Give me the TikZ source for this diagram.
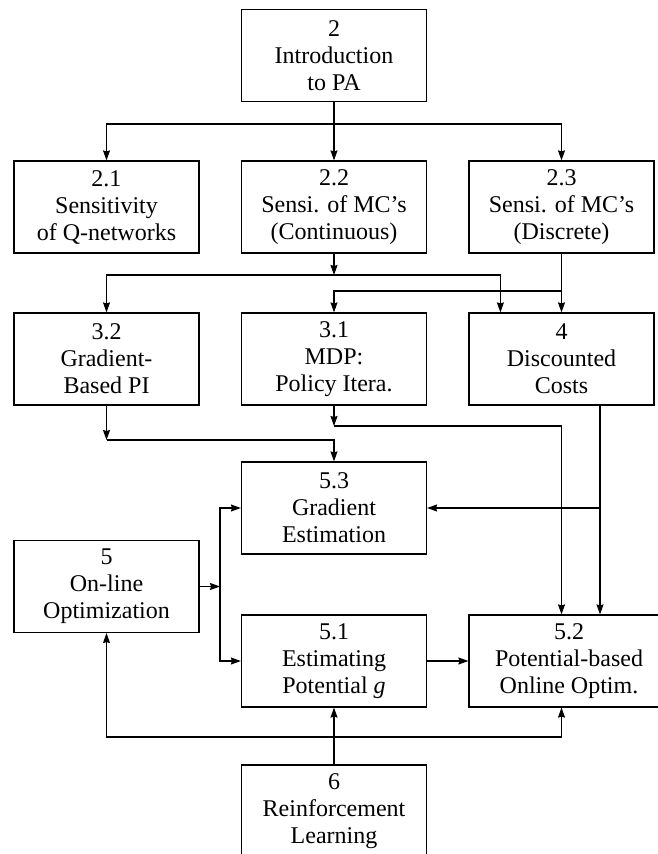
\documentclass[tikz,border=0pt]{standalone}
\usepackage{fontspec}
\setmainfont{Liberation Serif}
\usepackage{tikz}
\usetikzlibrary{arrows.meta,positioning}

\begin{document}
\begin{tikzpicture}[
	x=1pt, y=-1pt,
	box/.style={draw, line width=1.2pt, minimum width=185pt, minimum height=92pt,
		align=center, inner sep=0pt, font=\fontsize{24}{27}\selectfont},
	arr/.style={-{Stealth[length=10pt,width=7pt,inset=1pt]}, line width=1.1pt}
]
	\useasboundingbox (0,0) rectangle (658,854);

	% Chapter 2 and its sections
	\node[box] (intro) at (334, 55.5) {2\\ Introduction\\ to PA};
	\node[box] (s21) at (106.5, 207) {2.1\\ Sensitivity\\ of Q-networks};
	\node[box] (s22) at (334, 207)   {2.2\\ Sensi. of MC's\\ (Continuous)};
	\node[box] (s23) at (561.5, 207) {2.3\\ Sensi. of MC's\\ (Discrete)};

	% Chapters 3 and 4
	\node[box] (s32) at (106.5, 359) {3.2\\ Gradient-\\ Based PI};
	\node[box] (mdp31) at (334, 359) {3.1\\ MDP:\\ Policy Itera.};
	\node[box] (dc4) at (561.5, 359) {4\\ Discounted\\ Costs};

	% Chapter 5
	\node[box] (ge53) at (334, 508)   {5.3\\ Gradient\\ Estimation};
	\node[box] (onl) at (106.5, 586.5) {5\\ On-line\\ Optimization};
	\node[box] (est51) at (334, 661)  {5.1\\ Estimating\\ Potential \textit{g}};
	\node[box, minimum width=200pt] (pb52) at (569, 661)
		{5.2\\ Potential-based\\ Online Optim.};

	% Chapter 6
	\node[box] (rl) at (334, 811) {6\\ Reinforcement\\ Learning};

	% branch points
	\coordinate (b0) at (334, 124);
	\coordinate (b1) at (334, 275);
	\coordinate (b2) at (106.5, 440);
	\coordinate (b3) at (334, 426);
	\coordinate (b4) at (220, 586.5);
	\coordinate (b5) at (334, 737);
	\coordinate (c23) at (561.5, 291);
	\coordinate (c4) at (600, 405);

	% from 2
	\draw[arr] (intro) -- (s22);
	\draw[arr] (b0) -| (s21);
	\draw[arr] (b0) -| (s23);

	% from 2.2 and 2.3
	\draw[arr] (s22) -- (b1);
	\draw[arr] (b1) -| (s32);
	\draw[arr] (b1) -| ([xshift=32pt]dc4.north west);
	\draw[arr] (s23) -- (dc4);
	\draw[arr] (c23) -| (mdp31);

	% from 3.2, 3.1 and 4
	\draw[arr] (s32) -- (b2);
	\draw[arr] (b2) -| (ge53);
	\draw[arr] (mdp31) -- (b3);
	\draw[arr] (b3) -| (pb52.north -| dc4.south);
	\draw[arr] (c4) -- (c4 |- pb52.north);
	\draw[arr] (c4 |- ge53.east) -- (ge53.east);

	% from 5
	\draw[arr] (onl) -- (b4);
	\draw[arr] (b4) |- (ge53.west);
	\draw[arr] (b4) |- (est51.west);
	\draw[arr] (est51.east) -- (est51.east -| pb52.west);

	% from 6
	\draw[arr] (rl) -- (est51);
	\draw[arr] (b5) -| (onl);
	\draw[arr] (b5) -| (pb52.south -| dc4.south);
\end{tikzpicture}
\end{document}
